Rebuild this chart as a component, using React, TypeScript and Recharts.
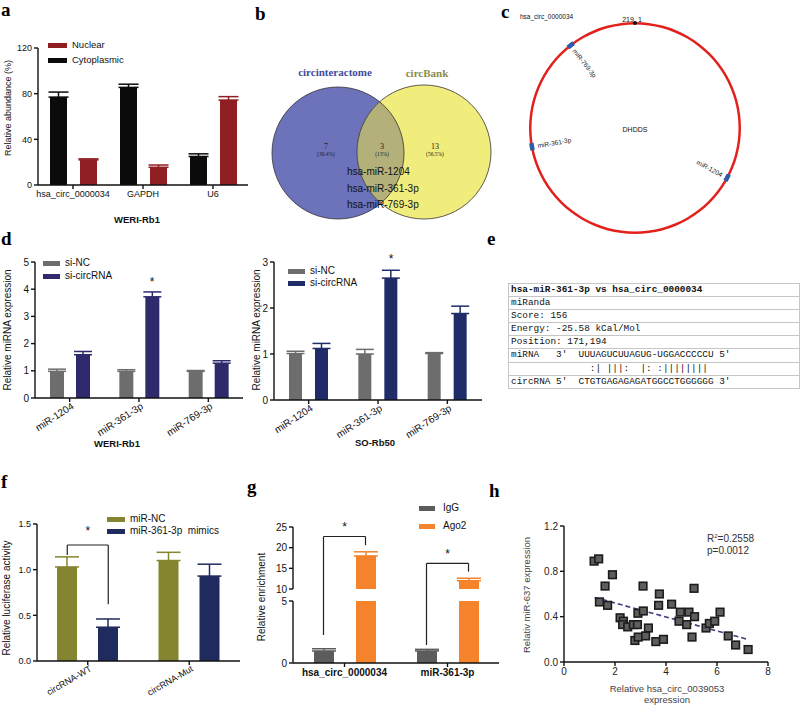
import React from "react";
import {
  ComposedChart,
  Bar,
  ErrorBar,
  XAxis,
  YAxis,
  ReferenceLine,
  ReferenceDot,
  ScatterChart,
  Scatter,
  PieChart,
  Pie,
  Cell,
} from "recharts";

const SANS = "'Liberation Sans', Arial, Helvetica, sans-serif";
const SERIF = "'Liberation Serif', 'Times New Roman', serif";
const MONO = "'Liberation Mono', 'DejaVu Sans Mono', monospace";

// a — nuclear / cytoplasmic fractionation (WERI-Rb1)
const fracGenes = ["hsa_circ_0000034", "GAPDH", "U6"];
const fracCyto = [77, 85.5, 25];
const fracCytoErr = [4.4, 2.8, 2.3];
const fracNuclear = [22, 15.5, 74.4];
const fracNuclearErr = [0.9, 2, 3];

// b — venn of predicted miRNAs
const vennSets = ["circinteractome", "circBank"];
const vennCounts = [7, 3, 13];
const vennShares = ["30.4%", "13%", "56.5%"];
const sharedMirs = ["hsa-miR-1204", "hsa-miR-361-3p", "hsa-miR-769-3p"];

// c — binding sites on the circRNA
const circName = "hsa_circ_0000034";
const circHost = "DHDDS";
const circLength = 219;
const siteNames = ["miR-1204", "miR-361-3p", "miR-769-3p"];
const sitePos = [72, 158, 196];

// d — miRNA expression after knockdown
const mirNames = ["miR-1204", "miR-361-3p", "miR-769-3p"];
const weriNC = [0.98, 0.98, 0.98];
const weriNCErr = [0.08, 0.06, 0.03];
const weriSi = [1.59, 3.72, 1.28];
const weriSiErr = [0.12, 0.18, 0.09];
const soNC = [1.01, 1.0, 1.01];
const soNCErr = [0.05, 0.1, 0.02];
const soSi = [1.12, 2.65, 1.88];
const soSiErr = [0.11, 0.17, 0.16];

// e — miRanda alignment
const alignRows = [
  "hsa-miR-361-3p vs hsa_circ_0000034",
  "miRanda",
  "Score: 156",
  "Energy: -25.58 kCal/Mol",
  "Position: 171,194",
  "miRNA   3'  UUUAGUCUUAGUG-UGGACCCCCU 5'",
  "              :| |||:  |: :||||||||",
  "circRNA 5'  CTGTGAGAGAGATGGCCTGGGGGG 3'",
];

// f — luciferase reporter
const lucGroups = ["circRNA-WT", "circRNA-Mut"];
const lucNC = [1.03, 1.1];
const lucNCErr = [0.11, 0.09];
const lucMimic = [0.37, 0.93];
const lucMimicErr = [0.09, 0.13];

// g — RIP
const ripGroups = ["hsa_circ_0000034", "miR-361-3p"];
const ripIgG = [0.97, 0.97];
const ripIgGErr = [0.18, 0.13];
const ripAgo2 = [18, 12];
const ripAgo2Err = [1.0, 0.6];

// h — correlation
const corrX = [1.18, 1.36, 1.39, 1.61, 1.71, 1.9, 2.2, 2.33, 2.3, 2.5, 2.72, 2.78, 2.88, 2.9, 2.91, 3.11, 3.1, 3.2, 3.31, 3.6, 3.71, 3.74, 3.9, 4.22, 4.51, 4.56, 4.81, 4.9, 5.02, 5.1, 5.12, 5.57, 5.7, 5.91, 6.12, 6.44, 6.73, 7.22];
const corrY = [0.89, 0.91, 0.53, 0.67, 0.5, 0.77, 0.39, 0.36, 0.33, 0.31, 0.33, 0.19, 0.33, 0.43, 0.22, 0.45, 0.67, 0.23, 0.3, 0.18, 0.5, 0.6, 0.2, 0.51, 0.36, 0.44, 0.33, 0.44, 0.22, 0.65, 0.4, 0.3, 0.34, 0.36, 0.44, 0.23, 0.15, 0.11];
const fitX = [1.2, 7.2];
const fitY = [0.57, 0.2];

const AX = { stroke: "#111", strokeWidth: 1.4 };
const MT = 10;
const MR = 12;
const YW = 40;

type Plot = { x0: number; x1: number; y0: number; y1: number };
type Series = { key: string; errKey?: string; color: string; err?: boolean };

const up = (key: string) => (d: any) => [0, (d && d.payload ? d.payload : d)[key]];

function T({ x, y, children, size = 10, weight = 400, family = SANS, color = "#111", anchor = "middle", rotate = 0 }: any) {
  const tx = anchor === "middle" ? "-50%" : anchor === "end" ? "-100%" : "0";
  return (
    <div
      style={{
        position: "absolute",
        left: x,
        top: y,
        transform: `translate(${tx}, -50%) rotate(${rotate}deg)`,
        whiteSpace: "pre",
        fontSize: size,
        fontFamily: family,
        fontWeight: weight,
        color,
        lineHeight: 1,
      }}
    >
      {children}
    </div>
  );
}

function Letter({ x, base, ch }: { x: number; base: number; ch: string }) {
  return (
    <div style={{ position: "absolute", left: x, top: Math.max(0, base - 16), fontSize: 19, lineHeight: 1, fontFamily: SERIF, fontWeight: 700, color: "#000" }}>
      {ch}
    </div>
  );
}

function Key({ sx, tx, sw, sh, items, size = 10 }: any) {
  return (
    <>
      {items.map((it: any) => (
        <React.Fragment key={it.label}>
          <div style={{ position: "absolute", left: sx, top: it.y - sh / 2, width: sw, height: sh, background: it.color }} />
          <T x={tx} y={it.y} anchor="start" size={size}>
            {it.label}
          </T>
        </React.Fragment>
      ))}
    </>
  );
}

function RotTick({ x, y, payload, names, angle, size }: any) {
  const label = names[Math.round(payload.value)];
  const px = x + 3;
  const py = y + 1;
  return (
    <text x={px} y={py} transform={`rotate(${angle} ${px} ${py})`} textAnchor="end" dominantBaseline="central" fontSize={size} fontFamily={SANS} fill="#111">
      {label}
    </text>
  );
}

const Star = (p: any) => (
  <text x={p.cx} y={p.cy} textAnchor="middle" dominantBaseline="central" fontSize={12} fontFamily={SANS} fill="#111">
    *
  </text>
);

function BarPanel({ plot, rows, n, series, yDomain, yTicks, yFmt, xNames, barSize, barGap, errW = 10, xh = 30, rotate = 0, hideX = false, mb = 0, bold = false, size = 10, children }: any) {
  const width = plot.x1 - plot.x0 + YW + MR;
  const height = plot.y1 - plot.y0 + MT + (hideX ? 0 : xh) + mb;
  const tickFont = { fontSize: size, fontFamily: SANS, fill: "#111" };
  return (
    <div style={{ position: "absolute", left: plot.x0 - YW, top: plot.y0 - MT }}>
      <ComposedChart width={width} height={height} data={rows} margin={{ top: MT, right: MR, bottom: mb, left: 0 }} barGap={barGap} barSize={barSize}>
        <XAxis
          dataKey="g"
          type="number"
          domain={[-0.5, n - 0.5]}
          ticks={xNames.map((_: string, i: number) => i)}
          interval={0}
          hide={hideX}
          height={xh}
          axisLine={AX}
          tickLine={AX}
          tickSize={4}
          tickFormatter={(v: number) => xNames[Math.round(v)]}
          tick={rotate ? (p: any) => <RotTick {...p} names={xNames} angle={rotate} size={size} /> : { ...tickFont, fontWeight: bold ? 700 : 400 }}
        />
        <YAxis
          width={YW}
          type="number"
          domain={yDomain}
          ticks={yTicks}
          interval={0}
          allowDataOverflow
          tickFormatter={yFmt}
          axisLine={AX}
          tickLine={AX}
          tickSize={4}
          tick={tickFont}
        />
        {series.map((s: Series) => (
          <Bar key={s.key} dataKey={s.key} fill={s.color} isAnimationActive={false}>
            {s.errKey && s.err !== false ? (
              <ErrorBar dataKey={up(s.errKey)} width={errW} stroke={s.color} strokeWidth={1.5} direction="y" />
            ) : null}
          </Bar>
        ))}
        {children}
      </ComposedChart>
    </div>
  );
}

function bracket(id: string, xa: number, xb: number, top: number, ya: number, yb: number) {
  const ln = { stroke: "#222", strokeWidth: 1.2, ifOverflow: "visible" as const };
  return [
    <ReferenceLine key={id + "l"} segment={[{ x: xa, y: ya }, { x: xa, y: top }]} {...ln} />,
    <ReferenceLine key={id + "t"} segment={[{ x: xa, y: top }, { x: xb, y: top }]} {...ln} />,
    <ReferenceLine key={id + "r"} segment={[{ x: xb, y: top }, { x: xb, y: yb }]} {...ln} />,
  ];
}

// layout of plot areas
const aPlot: Plot = { x0: 38, x1: 248, y0: 48, y1: 185 };
const dLPlot: Plot = { x0: 35, x1: 243, y0: 262, y1: 398 };
const dRPlot: Plot = { x0: 274, x1: 482, y0: 262, y1: 400 };
const fPlot: Plot = { x0: 37, x1: 240, y0: 524, y1: 661 };
const gTop: Plot = { x0: 293, x1: 499, y0: 527, y1: 589 };
const gBot: Plot = { x0: 293, x1: 499, y0: 601, y1: 663 };
const hPlot: Plot = { x0: 564, x1: 768, y0: 526, y1: 662 };

const unitOff = (p: Plot, n: number, size: number, gap: number) => (size + gap) / 2 / ((p.x1 - p.x0) / n);

const C = {
  nuclear: "#8f1f22",
  cyto: "#0b0b0b",
  nc: "#6d6d6d",
  siW: "#2e2a6c",
  siS: "#1f2c68",
  olive: "#858531",
  navy: "#1f2a5e",
  igg: "#5c5c5c",
  ago: "#f4832b",
};

const aRows = fracGenes.map((_, i) => ({ g: i, cyto: fracCyto[i], cytoErr: fracCytoErr[i], nuc: fracNuclear[i], nucErr: fracNuclearErr[i] }));
const dLRows = mirNames.map((_, i) => ({ g: i, nc: weriNC[i], ncErr: weriNCErr[i], si: weriSi[i], siErr: weriSiErr[i] }));
const dRRows = mirNames.map((_, i) => ({ g: i, nc: soNC[i], ncErr: soNCErr[i], si: soSi[i], siErr: soSiErr[i] }));
const fRows = lucGroups.map((_, i) => ({ g: i, nc: lucNC[i], ncErr: lucNCErr[i], mim: lucMimic[i], mimErr: lucMimicErr[i] }));
const gRows = ripGroups.map((_, i) => ({ g: i, igg: ripIgG[i], iggErr: ripIgGErr[i], ago: ripAgo2[i], agoErr: ripAgo2Err[i] }));
const hRows = corrX.map((x, i) => ({ x, y: corrY[i] }));
const fitSeg = fitX.map((x, i) => ({ x, y: fitY[i] }));

// circular map slices
const siteArc = 2.4;
const siteSlices: { name: string; v: number; site: boolean }[] = [];
{
  let cur = 0;
  sitePos.forEach((p, i) => {
    siteSlices.push({ name: "", v: p - siteArc / 2 - cur, site: false });
    siteSlices.push({ name: siteNames[i], v: siteArc, site: true });
    cur = p + siteArc / 2;
  });
  siteSlices.push({ name: "", v: circLength - cur, site: false });
}

const renderSite = (p: any) => {
  const d = p.payload && p.payload.site !== undefined ? p.payload : p;
  if (!d.site) return null;
  const a = -p.midAngle;
  const rad = (a * Math.PI) / 180;
  const r = 99;
  const x = p.cx + r * Math.cos(rad);
  const y = p.cy + r * Math.sin(rad);
  const left = Math.cos(rad) < 0;
  const rot = left ? a + 180 : a;
  return (
    <text key={d.name} x={x} y={y} transform={`rotate(${rot} ${x} ${y})`} textAnchor={left ? "start" : "end"} dominantBaseline="central" fontSize={6.5} fontFamily={SANS} fill="#222">
      {d.name}
    </text>
  );
};

const Square = (p: any) => <rect x={p.cx - 3.8} y={p.cy - 3.8} width={7.6} height={7.6} fill="#5e5e5e" stroke="#1c1c1c" strokeWidth={1.6} />;

export default function App() {
  const dLOff = unitOff(dLPlot, 3, 14, 12);
  const dROff = unitOff(dRPlot, 3, 13, 13);
  const fOff = unitOff(fPlot, 2, 20, 21);
  const gOff = unitOff(gTop, 2, 20, 22);
  const topPx = (gTop.y1 - gTop.y0) / 15;
  const bridge = 10 - (gBot.y0 - gTop.y1) / topPx;

  return (
    <div style={{ position: "absolute", left: 0, top: 0, width: 800, height: 705, background: "#fff", overflow: "hidden", fontFamily: SANS }}>
      {/* a */}
      <Letter x={1} base={15} ch="a" />
      <BarPanel
        plot={aPlot}
        rows={aRows}
        n={3}
        xNames={fracGenes}
        series={[
          { key: "cyto", errKey: "cytoErr", color: C.cyto },
          { key: "nuc", errKey: "nucErr", color: C.nuclear },
        ]}
        yDomain={[0, 120]}
        yTicks={[0, 40, 80, 120]}
        barSize={17}
        barGap={13}
        size={9}
        xh={22}
      />
      <Key sx={48} tx={72} sw={19} sh={5} size={9.5} items={[{ label: "Nuclear", color: C.nuclear, y: 45 }, { label: "Cytoplasmic", color: C.cyto, y: 60 }]} />
      <T x={8} y={108} rotate={-90} size={9}>Relative abundance (%)</T>
      <T x={137} y={220} size={9.5} weight={700}>WERI-Rb1</T>

      {/* b */}
      <Letter x={255} base={20} ch="b" />
      <svg style={{ position: "absolute", left: 0, top: 0 }} width={500} height={230}>
        <defs>
          <clipPath id="vennLeft">
            <circle cx={338} cy={153} r={66} />
          </clipPath>
        </defs>
        <circle cx={338} cy={153} r={66} fill="#6c73bb" />
        <circle cx={424} cy={152} r={67} fill="#f1ed7d" />
        <circle cx={424} cy={152} r={67} fill="#b3b07a" clipPath="url(#vennLeft)" />
        <circle cx={338} cy={153} r={66} fill="none" stroke="#333" strokeWidth={0.8} />
        <circle cx={424} cy={152} r={67} fill="none" stroke="#333" strokeWidth={0.8} />
      </svg>
      <T x={335} y={72} size={11} family={SERIF} weight={700} color="#3f4b9b">{vennSets[0]}</T>
      <T x={427} y={73} size={11} family={SERIF} weight={700} color="#8c8a45">{vennSets[1]}</T>
      {[326, 382, 435].map((cx, i) => (
        <React.Fragment key={cx}>
          <T x={cx} y={147} size={8} family={SERIF} color="#222">{String(vennCounts[i])}</T>
          <T x={cx} y={155} size={5.5} family={SERIF} color="#222">{`(${vennShares[i]})`}</T>
        </React.Fragment>
      ))}
      {sharedMirs.map((m, i) => (
        <T key={m} x={347} y={172 + i * 16.5} anchor="start" size={10}>{m}</T>
      ))}

      {/* c */}
      <Letter x={501} base={18} ch="c" />
      <T x={520} y={17} anchor="start" size={6.5}>{circName}</T>
      <div style={{ position: "absolute", left: 515, top: 0 }}>
        <PieChart width={240} height={235} margin={{ top: 0, right: 0, bottom: 0, left: 0 }}>
          <Pie
            data={[{ name: circHost, v: circLength }]}
            dataKey="v"
            cx={120}
            cy={128}
            innerRadius={103.5}
            outerRadius={106}
            startAngle={90}
            endAngle={-270}
            fill="#e2211d"
            stroke="none"
            isAnimationActive={false}
          />
          <Pie
            data={siteSlices}
            dataKey="v"
            cx={120}
            cy={128}
            innerRadius={102.5}
            outerRadius={107}
            startAngle={90}
            endAngle={-270}
            stroke="none"
            label={renderSite}
            labelLine={false}
            isAnimationActive={false}
          >
            {siteSlices.map((s, i) => (
              <Cell key={i} fill={s.site ? "#2b5ca8" : "none"} />
            ))}
          </Pie>
        </PieChart>
      </div>
      <div style={{ position: "absolute", left: 633, top: 21, width: 4, height: 4, borderRadius: 2, background: "#111" }} />
      <T x={628} y={19} size={7}>{String(circLength)}</T>
      <T x={640} y={19} size={7}>1</T>
      <T x={635} y={129} size={7}>{circHost}</T>

      {/* d */}
      <Letter x={1} base={245} ch="d" />
      <BarPanel
        plot={dLPlot}
        rows={dLRows}
        n={3}
        xNames={mirNames}
        series={[
          { key: "nc", errKey: "ncErr", color: C.nc },
          { key: "si", errKey: "siErr", color: C.siW },
        ]}
        yDomain={[0, 5]}
        yTicks={[0, 1, 2, 3, 4, 5]}
        barSize={14}
        barGap={12}
        errW={9}
        rotate={-33}
        xh={40}
      >
        <ReferenceDot x={1 + dLOff} y={4.27} ifOverflow="visible" shape={Star} />
      </BarPanel>
      <Key sx={43} tx={65} sw={17} sh={5} items={[{ label: "si-NC", color: C.nc, y: 263 }, { label: "si-circRNA", color: C.siW, y: 276 }]} />
      <T x={8} y={330} rotate={-90}>Relative miRNA expression</T>
      <T x={117} y={444} size={9.5} weight={700}>WERI-Rb1</T>

      <BarPanel
        plot={dRPlot}
        rows={dRRows}
        n={3}
        xNames={mirNames}
        series={[
          { key: "nc", errKey: "ncErr", color: C.nc },
          { key: "si", errKey: "siErr", color: C.siS },
        ]}
        yDomain={[0, 3]}
        yTicks={[0, 1, 2, 3]}
        barSize={13}
        barGap={13}
        errW={9}
        rotate={-33}
        xh={40}
      >
        <ReferenceDot x={1 + dROff} y={3.06} ifOverflow="visible" shape={Star} />
      </BarPanel>
      <Key sx={288} tx={310} sw={17} sh={5} items={[{ label: "si-NC", color: C.nc, y: 271 }, { label: "si-circRNA", color: C.siS, y: 283 }]} />
      <T x={257} y={330} rotate={-90}>Relative miRNA expression</T>
      <T x={375} y={443} size={9.5} weight={700}>SO-Rb50</T>

      {/* e */}
      <Letter x={487} base={245} ch="e" />
      <div style={{ position: "absolute", left: 508, top: 283, width: 290, borderTop: "1px solid #c6c6c6", borderLeft: "1px solid #c6c6c6", borderRight: "1px solid #c6c6c6" }}>
        {alignRows.map((r, i) => (
          <div
            key={i}
            style={{
              height: 12.1,
              borderBottom: "1px solid #c6c6c6",
              fontFamily: MONO,
              fontSize: 9.4,
              lineHeight: "12.1px",
              whiteSpace: "pre",
              paddingLeft: 2,
              fontWeight: i === 0 ? 700 : 400,
              color: "#111",
            }}
          >
            {r}
          </div>
        ))}
      </div>

      {/* f */}
      <Letter x={1} base={488} ch="f" />
      <BarPanel
        plot={fPlot}
        rows={fRows}
        n={2}
        xNames={lucGroups}
        series={[
          { key: "nc", errKey: "ncErr", color: C.olive },
          { key: "mim", errKey: "mimErr", color: C.navy },
        ]}
        yDomain={[0, 1.5]}
        yTicks={[0, 0.5, 1, 1.5]}
        yFmt={(v: number) => v.toFixed(1)}
        barSize={20}
        barGap={21}
        errW={12}
        rotate={-30}
        xh={36}
        size={9}
      >
        {bracket("f", -fOff, fOff, 1.27, 1.16, 0.62)}
        <ReferenceDot x={0} y={1.42} ifOverflow="visible" shape={Star} />
      </BarPanel>
      <Key sx={107} tx={130} sw={18} sh={5} items={[{ label: "miR-NC", color: C.olive, y: 519 }, { label: "miR-361-3p  mimics", color: C.navy, y: 531 }]} />
      <T x={7} y={598} rotate={-90}>Relative luciferase activity</T>

      {/* g */}
      <Letter x={247} base={493} ch="g" />
      <BarPanel
        plot={gTop}
        rows={gRows}
        n={2}
        xNames={ripGroups}
        series={[
          { key: "igg", errKey: "iggErr", color: C.igg, err: false },
          { key: "ago", errKey: "agoErr", color: C.ago },
        ]}
        yDomain={[10, 25]}
        yTicks={[10, 15, 20, 25]}
        barSize={20}
        barGap={22}
        errW={12}
        hideX
        mb={gBot.y0 - gTop.y1}
      >
        {bracket("g0", -gOff, gOff, 22.7, bridge, 20.6)}
        {bracket("g1", 1 - gOff, 1 + gOff, 16.2, bridge, 14.2)}
        <ReferenceDot x={0} y={25.1} ifOverflow="visible" shape={Star} />
        <ReferenceDot x={1} y={18.4} ifOverflow="visible" shape={Star} />
      </BarPanel>
      <BarPanel
        plot={gBot}
        rows={gRows}
        n={2}
        xNames={ripGroups}
        series={[
          { key: "igg", errKey: "iggErr", color: C.igg },
          { key: "ago", errKey: "agoErr", color: C.ago, err: false },
        ]}
        yDomain={[0, 5]}
        yTicks={[0, 5]}
        barSize={20}
        barGap={22}
        errW={12}
        bold
        xh={22}
      >
        <ReferenceLine segment={[{ x: -gOff, y: 2.26 }, { x: -gOff, y: 5 }]} stroke="#222" strokeWidth={1.2} ifOverflow="visible" />
        <ReferenceLine segment={[{ x: 1 - gOff, y: 1.45 }, { x: 1 - gOff, y: 5 }]} stroke="#222" strokeWidth={1.2} ifOverflow="visible" />
      </BarPanel>
      <Key sx={419} tx={443} sw={16} sh={5} items={[{ label: "IgG", color: C.igg, y: 508 }, { label: "Ago2", color: C.ago, y: 526 }]} />
      <T x={262} y={597} rotate={-90}>Relative enrichment</T>

      {/* h */}
      <Letter x={489} base={497} ch="h" />
      <div style={{ position: "absolute", left: hPlot.x0 - YW, top: hPlot.y0 - MT }}>
        <ScatterChart width={hPlot.x1 - hPlot.x0 + YW + MR} height={hPlot.y1 - hPlot.y0 + MT + 22} margin={{ top: MT, right: MR, bottom: 0, left: 0 }}>
          <XAxis
            dataKey="x"
            type="number"
            domain={[0, 8]}
            ticks={[0, 2, 4, 6, 8]}
            interval={0}
            height={22}
            axisLine={AX}
            tickLine={AX}
            tickSize={4}
            tick={{ fontSize: 10, fontFamily: SANS, fill: "#222" }}
          />
          <YAxis
            dataKey="y"
            type="number"
            width={YW}
            domain={[0, 1.2]}
            ticks={[0, 0.4, 0.8, 1.2]}
            interval={0}
            tickFormatter={(v: number) => v.toFixed(1)}
            axisLine={AX}
            tickLine={AX}
            tickSize={4}
            tick={{ fontSize: 10, fontFamily: SANS, fill: "#222" }}
          />
          <Scatter data={hRows} shape={Square} isAnimationActive={false} />
          <ReferenceLine segment={fitSeg} stroke="#3b3f7c" strokeWidth={1.6} strokeDasharray="5 3" ifOverflow="visible" />
        </ScatterChart>
      </div>
      <T x={707} y={539} anchor="start" size={10} color="#333">
        <span>
          R<sup style={{ fontSize: 6 }}>2</sup>=0.2558
        </span>
      </T>
      <T x={707} y={551} anchor="start" size={10} color="#333">p=0.0012</T>
      <T x={527} y={595} rotate={-90} size={9.5} color="#444">Relativ miR-637 expression</T>
      <T x={667} y={689} size={9.5} color="#444">Relative hsa_circ_0039053</T>
      <T x={667} y={700} size={9.5} color="#444">expression</T>
    </div>
  );
}
